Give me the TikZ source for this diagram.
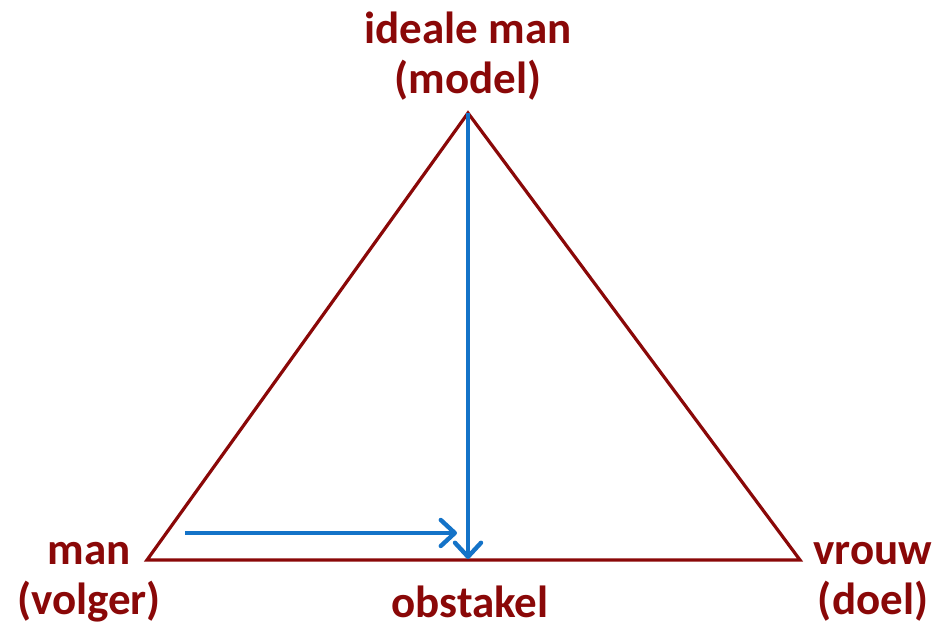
\documentclass[tikz,border=0pt]{standalone}
\usepackage{fontspec}
\setmainfont{Carlito}
\usepackage{tikz}
\usetikzlibrary{positioning}
\usetikzlibrary{calc,arrows.meta}
\definecolor{darkred}{RGB}{138,8,8}
\definecolor{arrowblue}{RGB}{20,115,200}
\tikzset{
  x=1pt, y=1pt,
  lbl/.style = {text=darkred, font=\fontsize{45}{50}\selectfont\bfseries,
   align=center, inner sep=0pt},
  side/.style = {draw=darkred, line width=3.2pt, line join=miter},
  move/.style = {draw=arrowblue, line width=4pt,
   -{Straight Barb[length=14pt, width=26pt, line width=4.4pt, round]}},
}
\begin{document}
\begin{tikzpicture}
  \useasboundingbox (0,0) rectangle (938,628);
  % vertices
  \coordinate (M) at (468,515);
  \coordinate (V) at (147,68);
  \coordinate (D) at (800,68);
  \coordinate (O) at (468,69);
  \coordinate (hs) at (185,95);
  \coordinate (he) at (457,95);
  % labels
  \node (model) [lbl] at (468,572) {ideale man\\(model)};
  \node (volger) [lbl] at (89,46) {man\\(volger)};
  \node (doel) [lbl] at (873,46) {vrouw\\(doel)};
  \node (obst) [lbl, anchor=base] at (470,10) {obstakel};
  \path[side] (M) -- (V) -- (D) -- cycle;
  \path[move] (M) -- (O);
  \path[move] (hs) -- (he);
\end{tikzpicture}
\end{document}
